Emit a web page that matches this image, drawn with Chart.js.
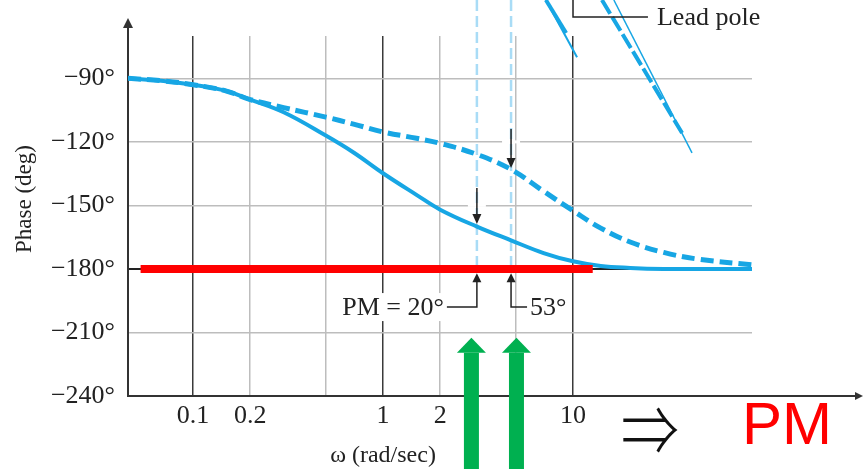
<!DOCTYPE html>
<html>
<head>
<meta charset="utf-8">
<title>Phase (deg) vs omega</title>
<script src="https://cdn.jsdelivr.net/npm/chart.js@4.4.1/dist/chart.umd.min.js"></script>
<style>
  html, body { margin: 0; padding: 0; background: #fff; }
  #wrap { width: 864px; height: 469px; }
</style>
</head>
<body>
<div id="wrap"><canvas id="phaseChart" width="864" height="469"></canvas></div>
<script>
// frequency points (rad/sec)
const omega = [0.0455, 0.07, 0.1, 0.15, 0.2, 0.3, 0.5, 0.7, 1, 1.5, 2, 3.12, 4.72, 7, 10, 14, 20, 30, 45, 87.5];
// uncompensated phase (solid) and lead-compensated phase (dashed), degrees
const phaseUncomp = [-90, -91.2, -93, -96, -100, -106, -117, -125, -134.8, -145, -152, -160, -166.5, -172.5, -176.4, -178.6, -179.5, -180, -180, -180];
const phaseComp = [-90, -91.2, -93, -96, -100, -103.8, -108.3, -111.6, -115.3, -118.3, -120.7, -125.9, -133, -143.3, -152.5, -160.7, -167.3, -172.2, -175.3, -178.1];

// red -180 line
const redOmega = [0.053, 12.7];
const redPhase = [-180, -180];

// crossover frequencies and phase margins
const crossOmega = [3.12, 4.72];
const pmLabels = ['PM = 20°', '53°'];

// steep curve pieces coming in at top right (lead pole)
const leadThickOmega = [7.2, 9.2];
const leadThickPhase = [-53, -68.6];
const leadThinOmega = [7.2, 10.5];
const leadThinPhase = [-53, -80];
const leadDashOmega = [14.2, 37.5];
const leadDashPhase = [-53, -115.8];
const leadLineOmega = [16.4, 42.3];
const leadLinePhase = [-53, -125.2];

// axes
const yTicks = [-240, -210, -180, -150, -120, -90];
const xTicks = [0.1, 0.2, 0.5, 1, 2, 5, 10];
const xTickLabels = ['0.1', '0.2', '', '1', '2', '', '10'];
const decades = [0.1, 1, 10];

// green arrows below the plot
const greenOmega = [2.92, 5.04];

const BLUE = '#17a6e4';
const LIGHT_BLUE = '#a9dcf6';
const SERIF = '"Liberation Serif", "Times New Roman", serif';

function toPoints(xs, ys) {
    return xs.map((x, i) => ({ x: x, y: ys[i] }));
}

// Function to draw a filled arrow head
function arrowHead(ctx, x, y, dir, w, h) {
    ctx.beginPath();
    ctx.moveTo(x, y);
    ctx.lineTo(x - w / 2, y - dir * h);
    ctx.lineTo(x + w / 2, y - dir * h);
    ctx.closePath();
    ctx.fill();
}

// Plugin for axis arrows, annotations and text
const extrasPlugin = {
    id: 'extras',
    afterDraw(chart) {
        const ctx = chart.ctx;
        const xs = chart.scales.x;
        const ys = chart.scales.y;
        const area = chart.chartArea;
        ctx.save();

        // axis extensions with arrows
        ctx.strokeStyle = '#333';
        ctx.fillStyle = '#333';
        ctx.lineWidth = 2;
        ctx.beginPath();
        ctx.moveTo(area.right, area.bottom);
        ctx.lineTo(856, area.bottom);
        ctx.moveTo(area.left, area.top);
        ctx.lineTo(area.left, 26);
        ctx.stroke();
        ctx.beginPath();
        ctx.moveTo(863, area.bottom);
        ctx.lineTo(855, area.bottom - 4);
        ctx.lineTo(855, area.bottom + 4);
        ctx.closePath();
        ctx.fill();
        arrowHead(ctx, area.left, 18, -1, 10, 10);

        // lead pole leader
        ctx.strokeStyle = '#222';
        ctx.lineWidth = 1.5;
        ctx.beginPath();
        ctx.moveTo(xs.getPixelForValue(10), ys.getPixelForValue(-53));
        ctx.lineTo(xs.getPixelForValue(10), ys.getPixelForValue(-61));
        ctx.lineTo(xs.getPixelForValue(24.8), ys.getPixelForValue(-61));
        ctx.stroke();
        ctx.fillStyle = '#222';
        ctx.font = '26px ' + SERIF;
        ctx.textAlign = 'left';
        ctx.textBaseline = 'middle';
        ctx.fillText('Lead pole', xs.getPixelForValue(24.8) + 9, ys.getPixelForValue(-61) + 1);

        // down arrows at the crossovers
        const downFrom = [-141.8, -113.9];
        const downTo = [-158.8, -132.3];
        const gapAt = [-150, -120];
        crossOmega.forEach((w, i) => {
            const px = xs.getPixelForValue(w);
            ctx.strokeStyle = '#fff';
            ctx.lineWidth = 3;
            ctx.beginPath();
            ctx.moveTo(px - 9, ys.getPixelForValue(gapAt[i]));
            ctx.lineTo(px + 9, ys.getPixelForValue(gapAt[i]));
            ctx.stroke();
            ctx.strokeStyle = '#222';
            ctx.fillStyle = '#222';
            ctx.lineWidth = 1.5;
            ctx.beginPath();
            ctx.moveTo(px, ys.getPixelForValue(downFrom[i]));
            ctx.lineTo(px, ys.getPixelForValue(downTo[i]) - 8);
            ctx.stroke();
            arrowHead(ctx, px, ys.getPixelForValue(downTo[i]), 1, 9, 10);
        });

        // phase margin arrows and labels
        const yTip = ys.getPixelForValue(-182);
        const yFoot = ys.getPixelForValue(-198);
        ctx.textBaseline = 'middle';
        crossOmega.forEach((w, i) => {
            const px = xs.getPixelForValue(w);
            const dir = i === 0 ? -1 : 1;
            const end = px + dir * (i === 0 ? 30 : 16);
            ctx.font = '26px ' + SERIF;
            const tw = ctx.measureText(pmLabels[i]).width;
            const tx = i === 0 ? end - 3 - tw : end + 3;
            ctx.fillStyle = '#fff';
            ctx.fillRect(tx - 2, yFoot - 14, tw + 4, 28);
            ctx.strokeStyle = '#222';
            ctx.fillStyle = '#222';
            ctx.lineWidth = 1.5;
            ctx.beginPath();
            ctx.moveTo(px, yTip + 8);
            ctx.lineTo(px, yFoot);
            ctx.lineTo(end, yFoot);
            ctx.stroke();
            arrowHead(ctx, px, yTip, -1, 9, 9);
            ctx.textAlign = 'left';
            ctx.fillText(pmLabels[i], tx, yFoot + 1);
        });

        // axis titles
        ctx.fillStyle = '#222';
        ctx.textAlign = 'center';
        ctx.textBaseline = 'middle';
        ctx.font = '24px ' + SERIF;
        ctx.fillText('ω (rad/sec)', 383, 456);
        ctx.save();
        ctx.font = '23px ' + SERIF;
        ctx.translate(25, 199);
        ctx.rotate(-Math.PI / 2);
        ctx.fillText('Phase (deg)', 0, 0);
        ctx.restore();

        // green arrows
        ctx.fillStyle = '#00b050';
        greenOmega.forEach(w => {
            const px = xs.getPixelForValue(w);
            const tip = ys.getPixelForValue(-212.5);
            arrowHead(ctx, px, tip, -1, 29, 15);
            ctx.fillRect(px - 7.5, tip + 15, 15, chart.height - tip - 15);
        });

        // => PM
        ctx.save();
        ctx.fillStyle = '#111';
        ctx.font = '300 58px "Noto Sans CJK JP", "DejaVu Sans", sans-serif';
        ctx.textAlign = 'center';
        ctx.textBaseline = 'middle';
        ctx.translate(650, 430);
        ctx.scale(1, 1.2);
        ctx.fillText('⇒', 0, 0);
        ctx.restore();
        ctx.fillStyle = '#ff0000';
        ctx.font = '60px "Liberation Sans", Arial, sans-serif';
        ctx.textAlign = 'left';
        ctx.textBaseline = 'alphabetic';
        ctx.fillText('PM', 742, 444);

        ctx.restore();
    }
};

// Function to create the phase chart
function createPhaseChart() {
    const ctx = document.getElementById('phaseChart').getContext('2d');
    new Chart(ctx, {
        type: 'line',
        data: {
            datasets: [
                {
                    data: toPoints(redOmega, redPhase),
                    borderColor: '#ff0000',
                    borderWidth: 8,
                    borderCapStyle: 'butt'
                },
                {
                    data: toPoints(omega, phaseComp),
                    borderColor: BLUE,
                    borderWidth: 5,
                    borderDash: [13, 6],
                    tension: 0.4
                },
                {
                    data: toPoints(omega, phaseUncomp),
                    borderColor: BLUE,
                    borderWidth: 4,
                    tension: 0.4
                },
                {
                    data: toPoints(leadThickOmega, leadThickPhase),
                    borderColor: BLUE,
                    borderWidth: 4,
                    clip: false
                },
                {
                    data: toPoints(leadThinOmega, leadThinPhase),
                    borderColor: BLUE,
                    borderWidth: 2,
                    clip: false
                },
                {
                    data: toPoints(leadDashOmega, leadDashPhase),
                    borderColor: BLUE,
                    borderWidth: 4,
                    borderDash: [16, 4],
                    clip: false
                },
                {
                    data: toPoints(leadLineOmega, leadLinePhase),
                    borderColor: BLUE,
                    borderWidth: 1.5,
                    clip: false
                },
                {
                    data: toPoints([crossOmega[0], crossOmega[0]], [-53, -180]),
                    borderColor: LIGHT_BLUE,
                    borderWidth: 2.5,
                    borderDash: [11, 5],
                    clip: false
                },
                {
                    data: toPoints([crossOmega[1], crossOmega[1]], [-53, -180]),
                    borderColor: LIGHT_BLUE,
                    borderWidth: 2.5,
                    borderDash: [11, 5],
                    clip: false
                }
            ]
        },
        options: {
            responsive: false,
            animation: false,
            devicePixelRatio: 1,
            elements: { point: { radius: 0 }, line: { tension: 0 } },
            layout: { padding: { top: 36, right: 112, left: 0, bottom: 0 } },
            plugins: {
                legend: { display: false },
                tooltip: { enabled: false }
            },
            scales: {
                x: {
                    type: 'logarithmic',
                    min: 0.0455,
                    max: 87.5,
                    afterBuildTicks: scale => { scale.ticks = xTicks.map(v => ({ value: v })); },
                    afterFit: scale => { scale.height = 73; },
                    grid: {
                        drawTicks: false,
                        lineWidth: 1.5,
                        color: c => (c.tick && decades.includes(c.tick.value)) ? '#3a3a3a' : '#bdbdbd'
                    },
                    border: { color: '#333', width: 2 },
                    ticks: {
                        autoSkip: false,
                        maxRotation: 0,
                        padding: 5,
                        color: '#222',
                        font: { family: SERIF, size: 26 },
                        callback: (v, i) => xTickLabels[i]
                    }
                },
                y: {
                    min: -240,
                    max: -70,
                    afterBuildTicks: scale => { scale.ticks = yTicks.map(v => ({ value: v })); },
                    afterFit: scale => { scale.width = 128; },
                    grid: {
                        drawTicks: false,
                        lineWidth: c => (c.tick && c.tick.value === -180) ? 2 : 1.5,
                        color: c => (c.tick && c.tick.value === -180) ? '#222' : '#bdbdbd'
                    },
                    border: { color: '#333', width: 2 },
                    ticks: {
                        padding: 13,
                        color: '#222',
                        font: { family: SERIF, size: 26 },
                        callback: v => '\u2212' + Math.abs(v) + '°'
                    }
                }
            }
        },
        plugins: [extrasPlugin]
    });
}

createPhaseChart();
</script>
</body>
</html>
